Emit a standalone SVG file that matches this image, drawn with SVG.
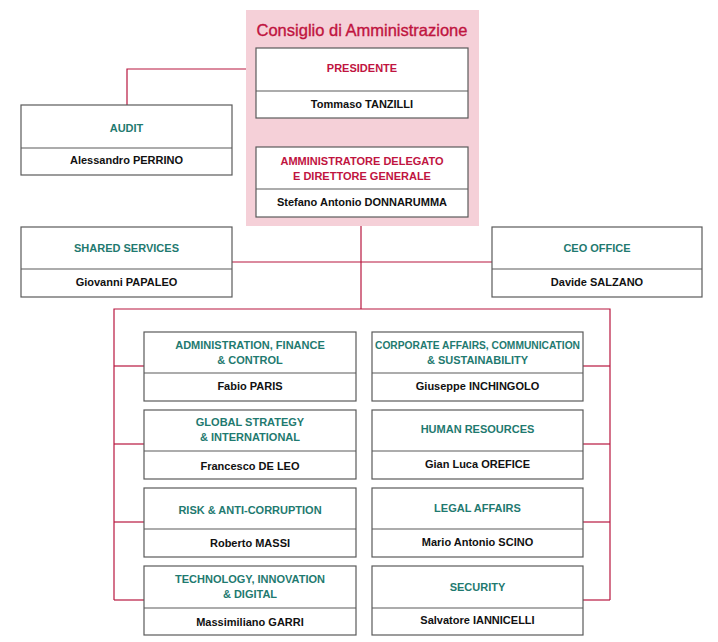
<svg xmlns="http://www.w3.org/2000/svg" width="718" height="642" viewBox="0 0 718 642">
<style>
.box{fill:#fff;stroke:#5a5a5a;stroke-width:1.2}
.div{stroke:#5a5a5a;stroke-width:1.2}
.conn{fill:none;stroke:#b8173f;stroke-width:1.2}
.t{font-family:"Liberation Sans",Arial,sans-serif;font-weight:bold;font-size:11px;text-anchor:middle}
.teal{fill:#1f7a70}
.red{fill:#c0143f}
.name{fill:#111}
.title{font-family:"Liberation Sans",Arial,sans-serif;font-size:16.5px;fill:#c0143f;stroke:#c0143f;stroke-width:0.35;text-anchor:middle}
</style>
<rect x="246" y="10" width="233" height="216" fill="#f5d0d8"/>
<text class="title" x="362" y="36">Consiglio di Amministrazione</text>
<g id="connectors">
<polyline class="conn" points="127,105 127,69 246,69"/>
<line class="conn" x1="361" y1="226" x2="361" y2="309"/>
<line class="conn" x1="232" y1="262" x2="492" y2="262"/>
<polyline class="conn" points="114,600 114,309 610,309 610,600"/>
<line class="conn" x1="114" y1="366" x2="144" y2="366"/>
<line class="conn" x1="114" y1="444" x2="144" y2="444"/>
<line class="conn" x1="114" y1="522" x2="144" y2="522"/>
<line class="conn" x1="114" y1="600" x2="144" y2="600"/>
<line class="conn" x1="583" y1="366" x2="610" y2="366"/>
<line class="conn" x1="583" y1="444" x2="610" y2="444"/>
<line class="conn" x1="583" y1="522" x2="610" y2="522"/>
<line class="conn" x1="583" y1="600" x2="610" y2="600"/>
</g>
<g id="presidente">
<rect class="box" x="256" y="48" width="212" height="70"/>
<line class="div" x1="256" y1="91" x2="468" y2="91"/>
<text class="t red" x="362" y="72">PRESIDENTE</text>
<text class="t name" x="362" y="108">Tommaso TANZILLI</text>
</g>
<g id="ad">
<rect class="box" x="256" y="147" width="212" height="70"/>
<line class="div" x1="256" y1="189" x2="468" y2="189"/>
<text class="t red" x="362" y="165">AMMINISTRATORE DELEGATO</text>
<text class="t red" x="362" y="180">E DIRETTORE GENERALE</text>
<text class="t name" x="362" y="206">Stefano Antonio DONNARUMMA</text>
</g>
<g id="audit">
<rect class="box" x="21" y="105" width="211" height="70"/>
<line class="div" x1="21" y1="148" x2="232" y2="148"/>
<text class="t teal" x="126.5" y="132">AUDIT</text>
<text class="t name" x="126.5" y="164">Alessandro PERRINO</text>
</g>
<g id="shared">
<rect class="box" x="21" y="227" width="211" height="70"/>
<line class="div" x1="21" y1="269" x2="232" y2="269"/>
<text class="t teal" x="126.5" y="252">SHARED SERVICES</text>
<text class="t name" x="126.5" y="286">Giovanni PAPALEO</text>
</g>
<g id="ceo">
<rect class="box" x="492" y="227" width="210" height="70"/>
<line class="div" x1="492" y1="269" x2="702" y2="269"/>
<text class="t teal" x="597" y="252">CEO OFFICE</text>
<text class="t name" x="597" y="286">Davide SALZANO</text>
</g>
<g id="afc">
<rect class="box" x="144" y="332" width="212" height="69"/>
<line class="div" x1="144" y1="373" x2="356" y2="373"/>
<text class="t teal" x="250" y="349">ADMINISTRATION, FINANCE</text>
<text class="t teal" x="250" y="364">&amp; CONTROL</text>
<text class="t name" x="250" y="390">Fabio PARIS</text>
</g>
<g id="gsi">
<rect class="box" x="144" y="410" width="212" height="69"/>
<line class="div" x1="144" y1="451" x2="356" y2="451"/>
<text class="t teal" x="250" y="426">GLOBAL STRATEGY</text>
<text class="t teal" x="250" y="441">&amp; INTERNATIONAL</text>
<text class="t name" x="250" y="470">Francesco DE LEO</text>
</g>
<g id="risk">
<rect class="box" x="144" y="488" width="212" height="69"/>
<line class="div" x1="144" y1="529" x2="356" y2="529"/>
<text class="t teal" x="250" y="514">RISK &amp; ANTI-CORRUPTION</text>
<text class="t name" x="250" y="547">Roberto MASSI</text>
</g>
<g id="tech">
<rect class="box" x="144" y="566" width="212" height="69"/>
<line class="div" x1="144" y1="608" x2="356" y2="608"/>
<text class="t teal" x="250" y="583">TECHNOLOGY, INNOVATION</text>
<text class="t teal" x="250" y="598">&amp; DIGITAL</text>
<text class="t name" x="250" y="626">Massimiliano GARRI</text>
</g>
<g id="corp">
<rect class="box" x="372" y="332" width="211" height="69"/>
<line class="div" x1="372" y1="373" x2="583" y2="373"/>
<text class="t teal" x="477.5" y="349" textLength="205" lengthAdjust="spacingAndGlyphs">CORPORATE AFFAIRS, COMMUNICATION</text>
<text class="t teal" x="477.5" y="364">&amp; SUSTAINABILITY</text>
<text class="t name" x="477.5" y="390">Giuseppe INCHINGOLO</text>
</g>
<g id="hr">
<rect class="box" x="372" y="410" width="211" height="69"/>
<line class="div" x1="372" y1="451" x2="583" y2="451"/>
<text class="t teal" x="477.5" y="433">HUMAN RESOURCES</text>
<text class="t name" x="477.5" y="468">Gian Luca OREFICE</text>
</g>
<g id="legal">
<rect class="box" x="372" y="488" width="211" height="69"/>
<line class="div" x1="372" y1="529" x2="583" y2="529"/>
<text class="t teal" x="477.5" y="512">LEGAL AFFAIRS</text>
<text class="t name" x="477.5" y="546">Mario Antonio SCINO</text>
</g>
<g id="security">
<rect class="box" x="372" y="566" width="211" height="69"/>
<line class="div" x1="372" y1="608" x2="583" y2="608"/>
<text class="t teal" x="477.5" y="591">SECURITY</text>
<text class="t name" x="477.5" y="624">Salvatore IANNICELLI</text>
</g>
</svg>
